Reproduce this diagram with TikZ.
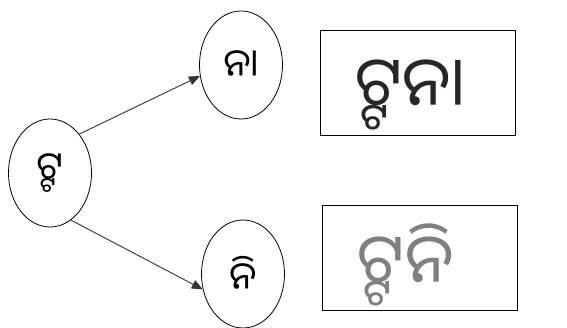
\documentclass[tikz,border=0pt]{standalone}
\usepackage{fontspec}
\usepackage{xcolor}
\usepackage{tikz}
\usetikzlibrary{shapes,arrows,positioning,calc,arrows.meta}
% stacked conjuncts (no pres ligature)
\newfontfamily\odia[Script=Oriya,RawFeature={-pres}]{Noto Sans Oriya UI}

\begin{document}
\begin{tikzpicture}[x=1pt, y=-1pt,
    syl/.style={draw, ellipse, line width=0.8pt, inner sep=0pt, minimum width=83pt, minimum height=108pt, font=\odia\fontsize{38}{44}\selectfont},
    answer/.style={draw, line width=1.3pt, inner sep=0pt, minimum width=195pt, minimum height=105pt},
    hand/.style={font=\odia\fontsize{68}{80}\selectfont},
    link/.style={-{Triangle[length=11pt, width=9pt]}, line width=0.9pt, black!80}]
    \useasboundingbox (0,0) rectangle (567,328);

    % Syllables
    \node[syl] (root) at (50,173) {ଟ୍ଟ};
    \node[syl] (na) at (241,65) {ନା};
    \node[syl] (ni) at (243,274) {ନି};

    % Joined words
    \node[answer] (box1) at (418,83) {};
    \node[answer] (box2) at (420,258) {};
    \node[hand, text=black!85] (word1) at (410,95) {ଟ୍ଟନା};
    \node[hand, text=black!50] (word2) at (406,265) {ଟ୍ଟନି};

    \draw[link] (root.53) -- (na.195);
    \draw[link] (root.294) -- (ni.201);
\end{tikzpicture}
\end{document}
